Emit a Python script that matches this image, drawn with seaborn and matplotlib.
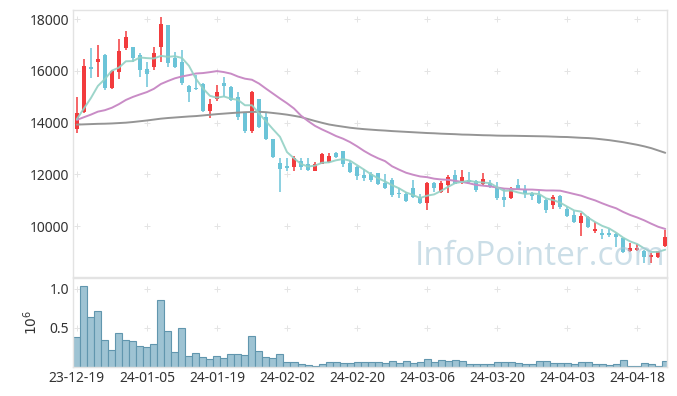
import matplotlib
matplotlib.use("Agg")
import matplotlib.pyplot as plt
import pandas as pd
import numpy as np
import seaborn as sns

# trading days (KRX holidays removed)
holidays = ["2023-12-25", "2023-12-29", "2024-01-01", "2024-02-09",
            "2024-02-12", "2024-03-01", "2024-04-10"]
dates = [d for d in pd.bdate_range("2023-12-19", "2024-04-24")
         if d.strftime("%Y-%m-%d") not in holidays]

opens = [13750, 14410, 16150, 16340, 16610, 15330, 15950, 16880, 16920, 16610,
         16070, 16150, 16920, 17770, 16490, 16340, 15410, 15330, 15490, 14440,
         14900, 15530, 15370, 15000, 14400, 13670, 14900, 14210, 13360, 12430,
         12310, 12270, 12510, 12390, 12120, 12390, 12470, 12820, 12900, 12430,
         12270, 11960, 12000, 12040, 11660, 11770, 11270, 11230, 11470, 11120,
         10890, 11660, 11310, 11580, 11960, 11700, 11770, 11730, 11620, 11660,
         11510, 11120, 11080, 11580, 11390, 11270, 11200, 11000, 10810, 11160,
         10660, 10430, 10120, 10350, 9800, 9730, 9730, 9690, 9540, 9030,
         9070, 9030, 8800, 8800, 9230]
highs = [15000, 16450, 16880, 17000, 16650, 16030, 17230, 17540, 16920, 16690,
         16340, 16920, 18080, 17770, 16720, 16800, 15450, 15840, 15530, 14900,
         15450, 15760, 15410, 15180, 14400, 15220, 14900, 14370, 13360, 12630,
         12630, 12710, 12630, 12630, 12470, 12820, 12820, 12860, 12900, 12510,
         12310, 12190, 12080, 12040, 12000, 11840, 11470, 11310, 11770, 11230,
         11700, 11700, 11740, 11960, 12150, 12150, 12080, 11770, 12040, 11770,
         11700, 11470, 11510, 11810, 11580, 11310, 11350, 11040, 11200, 11200,
         10730, 10580, 10500, 10390, 10150, 9880, 9880, 9730, 9540, 9340,
         9300, 9070, 8960, 9030, 9840]
lows = [13600, 14370, 15720, 15760, 15255, 15300, 15680, 16800, 16340, 15760,
        15370, 16030, 16340, 16150, 16100, 15450, 14800, 15260, 14400, 14170,
        14830, 15000, 14830, 14090, 13600, 13600, 13790, 13330, 12630, 11320,
        12120, 12120, 12160, 12120, 12120, 12390, 12430, 12630, 12270, 12040,
        11770, 11730, 11700, 11580, 11430, 11120, 11080, 10930, 11080, 10850,
        10620, 11310, 11270, 11270, 11620, 11620, 11620, 11310, 11580, 11470,
        11000, 10730, 11040, 11430, 11080, 11000, 10850, 10500, 10660, 10660,
        10350, 10120, 9630, 9920, 9730, 9500, 9570, 9190, 8960, 9000,
        9030, 8570, 8570, 8770, 9190]
closes = [14370, 16180, 16070, 16450, 15330, 16000, 16760, 17300, 16490, 16030,
          15870, 16690, 17810, 16300, 16150, 15530, 15180, 15300, 14440, 14710,
          15180, 15410, 14870, 14210, 13670, 15180, 13830, 13360, 12670, 12200,
          12230, 12630, 12270, 12160, 12390, 12780, 12710, 12670, 12390, 12080,
          11920, 11840, 11770, 11620, 11470, 11200, 11230, 10970, 11120, 10890,
          11660, 11470, 11660, 11890, 11620, 11890, 11700, 11390, 11810, 11510,
          11080, 11000, 11470, 11430, 11230, 11160, 10890, 10620, 11120, 10730,
          10390, 10150, 10390, 9960, 9880, 9650, 9650, 9570, 9000, 9150,
          9150, 8800, 8880, 9030, 9570]
# closes before the shown window (estimated from where the averages start)
prev_close = [14100, 14050, 14150, 14200, 14100, 14000, 14050, 14150, 14100, 14050,
              14150, 14100, 14000, 14050, 14100, 14150, 14050, 14100, 14000]
volume = [383000, 1038000, 638000, 715000, 349000, 221000, 434000, 349000, 336000, 272000,
          260000, 298000, 860000, 464000, 196000, 498000, 145000, 179000, 128000, 106000,
          145000, 119000, 170000, 170000, 157000, 400000, 209000, 132000, 119000, 170000,
          68000, 68000, 43000, 30000, 17000, 43000, 68000, 60000, 55000, 55000,
          60000, 60000, 60000, 60000, 47000, 77000, 51000, 72000, 47000, 64000,
          102000, 64000, 89000, 77000, 89000, 77000, 34000, 34000, 34000, 34000,
          60000, 60000, 60000, 47000, 34000, 34000, 77000, 77000, 47000, 47000,
          47000, 34000, 60000, 60000, 34000, 34000, 21000, 34000, 85000, 13000,
          13000, 47000, 34000, 13000, 77000]
ma120 = [13920, 13930, 13940, 13950, 13955, 13965, 13980, 13995, 14020, 14050,
         14080, 14115, 14150, 14175, 14195, 14215, 14235, 14250, 14275, 14300,
         14325, 14345, 14365, 14385, 14400, 14410, 14415, 14400, 14370, 14340,
         14305, 14260, 14210, 14135, 14060, 13990, 13925, 13880, 13840, 13800,
         13770, 13745, 13725, 13705, 13690, 13670, 13655, 13640, 13625, 13610,
         13595, 13585, 13570, 13560, 13550, 13535, 13530, 13520, 13510, 13505,
         13495, 13490, 13490, 13485, 13480, 13475, 13470, 13465, 13455, 13445,
         13440, 13425, 13410, 13400, 13380, 13350, 13320, 13280, 13240, 13190,
         13140, 13080, 13010, 12920, 12830]

n = len(closes)
idx = np.arange(n)
allc = pd.Series(prev_close + closes)
ma5 = allc.rolling(5).mean().iloc[len(prev_close):].to_numpy()
ma20 = allc.rolling(20).mean().iloc[len(prev_close):].to_numpy()

df = pd.DataFrame({"i": idx, "open": opens, "high": highs, "low": lows,
                   "close": closes, "vol": np.array(volume) / 1e6,
                   "ma5": ma5, "ma20": ma20, "ma120": ma120})

sns.set_style("white")
plt.rcParams["font.family"] = ["Noto Sans", "DejaVu Sans"]

RED = "#f23b3d"
BLUE = "#6cc4d8"

fig = plt.figure(figsize=(6.77, 3.96), dpi=100)
ax = fig.add_axes([73 / 677, 119 / 396, 594 / 677, 267 / 396])
axv = fig.add_axes([73 / 677, 29 / 396, 594 / 677, 89 / 396])

for r in df.itertuples():
    col = RED if r.close >= r.open else BLUE
    ax.vlines(r.i, r.low, r.high, color=col, lw=1.1, zorder=2)
    h = max(abs(r.close - r.open), 45)
    ax.bar(r.i, h, bottom=min(r.open, r.close), width=0.62, color=col,
           linewidth=0, zorder=3)

sns.lineplot(data=df, x="i", y="ma120", ax=ax, color="#959595", lw=1.4, zorder=4)
sns.lineplot(data=df, x="i", y="ma20", ax=ax, color="#c98cc6", lw=1.4, zorder=4)
sns.lineplot(data=df, x="i", y="ma5", ax=ax, color="#93d1c5", lw=1.4, alpha=0.9, zorder=5)

axv.bar(df["i"], df["vol"], width=1.0, color="#9ec3d3", edgecolor="#6196ae",
        linewidth=0.8, zorder=2)

xt = list(range(0, n, 10))
yt = [10000, 12000, 14000, 16000, 18000]
for a, ylim, ticks in [(ax, (8030, 18350), yt), (axv, (0, 1.14), [0.5, 1.0])]:
    a.set_xlim(-0.55, n - 0.75)
    a.set_ylim(*ylim)
    a.set_yticks(ticks)
    a.set_xticks(xt)
    a.set_xlabel("")
    a.set_ylabel("")
    a.tick_params(length=0, labelsize=10, colors="#333333", pad=3)
    for s in a.spines.values():
        s.set_color("#e3e3e3")
        s.set_linewidth(1)
    gx, gy = np.meshgrid(xt, ticks)
    a.plot(gx.ravel(), gy.ravel(), linestyle="none", marker="+", ms=4,
           mew=0.7, color="#e4e4e4", zorder=1)

ax.set_xticklabels([])
axv.set_xticklabels([dates[i].strftime("%y-%m-%d") for i in xt])
ax.set_yticklabels([str(v) for v in yt])
axv.set_yticklabels(["0.5", "1.0"])
axv.set_ylabel(r"$10^6$", fontsize=10, color="#333333", labelpad=6)

ax.text(0.998, 0.015, "InfoPointer.com", transform=ax.transAxes, ha="right",
        va="bottom", fontsize=24, color="#a9c8d8", alpha=0.6, zorder=10,
        family=["Open Sans", "DejaVu Sans"])

fig.savefig("out.png", dpi=100)
